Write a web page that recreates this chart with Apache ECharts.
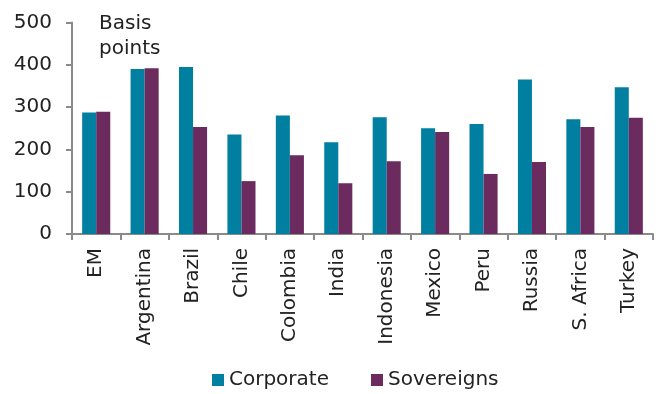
<!DOCTYPE html>
<html><head><meta charset="utf-8">
<script src="https://cdn.jsdelivr.net/npm/echarts@6/dist/echarts.min.js"></script>
<style>html,body{margin:0;padding:0;background:#fff}#c{width:664px;height:394px}</style>
</head><body><div id="c"></div>
<script>
const categories = ["EM","Argentina","Brazil","Chile","Colombia","India","Indonesia","Mexico","Peru","Russia","S. Africa","Turkey"];
const corporate = [287,390,395,235,280,217,276,250,260,365,271,347];
const sovereigns = [289,392,253,125,186,120,172,241,142,170,253,275];
const yTicks = [0,100,200,300,400,500];
const unitLabel = "Basis\npoints";

const chart = echarts.init(document.getElementById('c'), null, {renderer:'canvas'});
const font = '"DejaVu Sans", sans-serif';
chart.setOption({
  animation:false,
  textStyle:{fontFamily:font},
  grid:{left:72,right:11,top:22.5,bottom:160},
  legend:{
    data:['Corporate','Sovereigns'],
    top:370, left:212, padding:0,
    itemWidth:12,itemHeight:12,itemGap:42,
    icon:'rect',
    textStyle:{fontSize:20,color:'#222',fontFamily:font}
  },
  xAxis:{
    type:'category',data:categories,
    axisLine:{lineStyle:{color:'#8a8a8a',width:2}},
    axisTick:{show:true,lineStyle:{color:'#8a8a8a',width:2},length:6,alignWithLabel:false},
    axisLabel:{rotate:90,fontSize:20,color:'#222',margin:14,fontFamily:font}
  },
  yAxis:{
    type:'value',min:0,max:500,interval:100,
    axisLine:{show:true,lineStyle:{color:'#8a8a8a',width:2}},
    axisTick:{show:true,length:6,lineStyle:{color:'#8a8a8a',width:2}},
    splitLine:{show:false},
    axisLabel:{fontSize:20,color:'#222',margin:20,fontFamily:font,
      formatter:v=>yTicks.includes(v)?String(v):''}
  },
  graphic:[{type:'text',left:99,top:11,style:{text:unitLabel,fontSize:20,fill:'#222',fontFamily:font,lineHeight:25}}],
  series:[
    {name:'Corporate',type:'bar',data:corporate,barGap:'0%',barCategoryGap:'42%',itemStyle:{color:'#007FA0'}},
    {name:'Sovereigns',type:'bar',data:sovereigns,itemStyle:{color:'#6B2B5F'}}
  ]
});
</script></body></html>
